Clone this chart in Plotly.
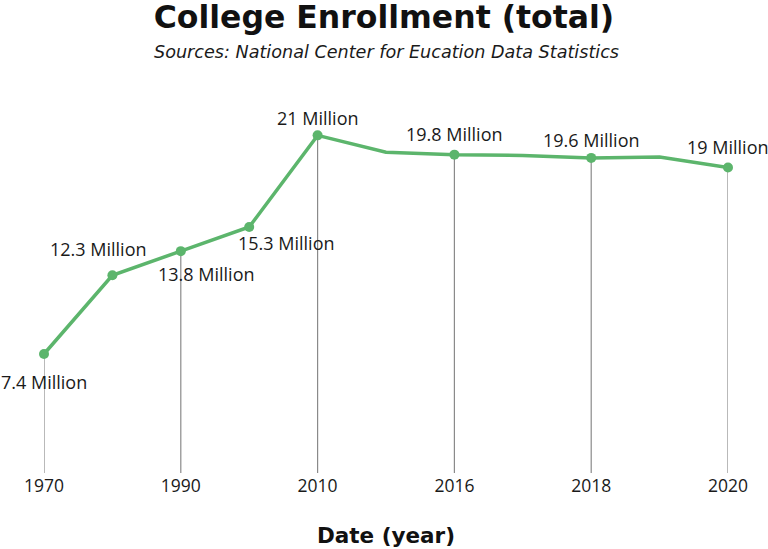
import plotly.graph_objects as go

# enrollment, millions of students
years = ["1970", "1980", "1990", "2000", "2010", "2015", "2016", "2017", "2018", "2019", "2020"]
enrollment = [7.4, 12.3, 13.8, 15.3, 21.0, 19.95, 19.8, 19.75, 19.6, 19.65, 19.0]

marked_years = ["1970", "1980", "1990", "2000", "2010", "2016", "2018", "2020"]
tick_years = ["1970", "1990", "2010", "2016", "2018", "2020"]
labels = ["7.4 Million", "12.3 Million", "13.8 Million", "15.3 Million",
          "21 Million", "19.8 Million", "19.6 Million", "19 Million"]

# label offsets in px (xshift, yshift)
offsets = [(0, -28), (-14, 26), (26, -23), (37, -16), (0, 17), (0, 21), (0, 18), (0, 21)]

green = "#5cb56c"
font = "Open Sans"
wide = "DejaVu Sans"

value = dict(zip(years, enrollment))

fig = go.Figure()

# drop lines
dx, dy = [], []
for yr in tick_years:
    dx += [yr, yr, None]
    dy += [0, value[yr], None]
fig.add_trace(go.Scatter(x=dx, y=dy, mode="lines", line=dict(color="#8a8a8a", width=1.2),
                         hoverinfo="skip", showlegend=False))

fig.add_trace(go.Scatter(x=years, y=enrollment, mode="lines",
                         line=dict(color=green, width=3.5), showlegend=False, cliponaxis=False))
fig.add_trace(go.Scatter(x=marked_years, y=[value[y] for y in marked_years], mode="markers",
                         marker=dict(color=green, size=10), showlegend=False, cliponaxis=False))

for yr, txt, (xs, ys) in zip(marked_years, labels, offsets):
    # numeric-looking categories: place annotations by index
    fig.add_annotation(x=years.index(yr), y=value[yr], text=txt, showarrow=False,
                       xshift=xs, yshift=ys, font=dict(family=font, size=18, color="#1a1a1a"))

fig.add_annotation(text="<i>Sources: National Center for Eucation Data Statistics</i>",
                   xref="paper", yref="paper", x=0.5, y=1.1287, yanchor="middle",
                   showarrow=False, font=dict(family=wide, size=17.6, color="#1a1a1a"))

fig.update_layout(
    width=768, height=549,
    margin=dict(l=44, r=40, t=100, b=76),
    plot_bgcolor="white", paper_bgcolor="white",
    title=dict(text="<b>College Enrollment (total)</b>",
               x=0.5, xanchor="center", y=0.969, yanchor="middle",
               font=dict(family=wide, size=31.5, color="#111")),
    xaxis=dict(type="category", categoryorder="array", categoryarray=years,
               range=[0, len(years) - 1], tickvals=tick_years, showgrid=False, zeroline=False,
               showline=False, ticks="", automargin=False,
               tickfont=dict(family=font, size=17.5, color="#1a1a1a"),
               title=dict(text="<b>Date (year)</b>", standoff=32,
                          font=dict(family=wide, size=21.5, color="#111"))),
    yaxis=dict(range=[0, 23.2], visible=False),
)

fig.write_html("out.html", config={"displayModeBar": False},
               post_script="document.body.style.margin='0';")
